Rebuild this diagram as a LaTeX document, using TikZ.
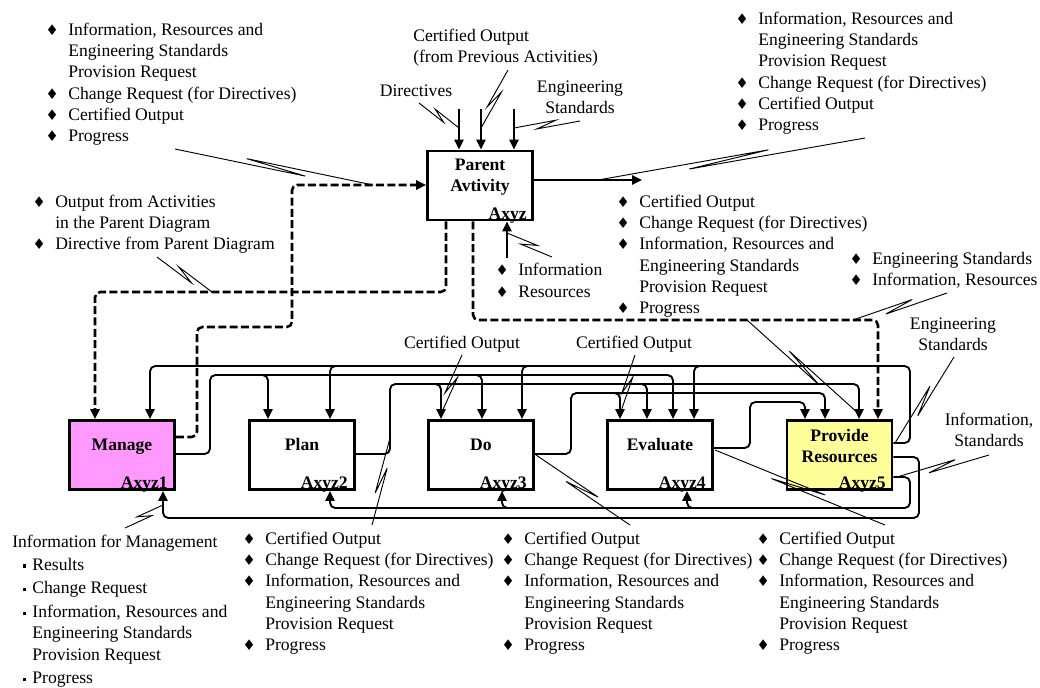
\documentclass[tikz,border=0pt]{standalone}
\usepackage{fontspec}
\setmainfont{Liberation Serif}
\newfontfamily\dejavu{DejaVu Sans}
\usetikzlibrary{arrows.meta,calc}
\definecolor{pinkfill}{RGB}{255,153,255}
\definecolor{yellowfill}{RGB}{255,255,153}
\newcommand\dia{\makebox[7pt][c]{\dejavu\fontsize{11}{11}\selectfont\char"2666}}
\newcommand\sqb{\rule[0.3ex]{2.4pt}{2.4pt}}
\newcommand\squig[3]{\draw[sq] (#1) -- ($(#1)!0.66!(#2)!2.5pt!#3:(#2)$) -- ($(#1)!0.36!(#2)!-2.5pt!#3:(#2)$) -- (#2);}
\newcommand\listA{\begin{tabular}[t]{@{}l@{\hspace{8.5pt}}l@{}}\dia & Information, Resources and\\ & Engineering Standards\\ & Provision Request\\ \dia & Change Request (for Directives)\\ \dia & Certified Output\\ \dia & Progress\end{tabular}}
\newcommand\listB{\begin{tabular}[t]{@{}l@{\hspace{8.5pt}}l@{}}\dia & Certified Output\\ \dia & Change Request (for Directives)\\ \dia & Information, Resources and\\ & Engineering Standards\\ & Provision Request\\ \dia & Progress\end{tabular}}
\begin{document}
\begin{tikzpicture}[x=0.75pt,y=-0.75pt, font=\fontsize{13.2}{16}\selectfont,
  box/.style={draw, line width=2.2pt, minimum width=78.75pt, minimum height=51.75pt, inner sep=0pt},
  ttl/.style={font=\fontsize{13.2}{16}\selectfont\bfseries, inner sep=0pt, anchor=base},
  bid/.style={font=\fontsize{13.2}{16}\selectfont\bfseries, inner sep=0pt, anchor=base east},
  flow/.style={line width=1.4pt, rounded corners=4pt, -{Triangle[length=7.5pt,width=7pt]}},
  dflow/.style={line width=1.9pt, rounded corners=4pt, dash pattern=on 6pt off 2.5pt, -{Triangle[length=7.5pt,width=7pt]}},
  sq/.style={line width=0.7pt},
  lbl/.style={inner sep=0pt, anchor=base},
  blist/.style={inner sep=0pt, anchor=base west, xshift=-15.5pt},
]
\useasboundingbox (0,0) rectangle (1040,687);

% ---------- boxes ----------
\node[box] (parent) at (480,185.5) {};
\node[box, fill=pinkfill] (manage) at (122,455) {};
\node[box] (plan) at (302,455) {};
\node[box] (do) at (481,455) {};
\node[box] (eval) at (660,455) {};
\node[box, fill=yellowfill] (prov) at (839.5,455) {};

\node[ttl] (parentT) at (480,170) {\begin{tabular}[t]{@{}c@{}}Parent\\Avtivity\end{tabular}};
\node[bid] (parentID) at (527,219) {Axyz};
\node[ttl] (manageT) at (122,450) {Manage};
\node[bid] (manageID) at (168,488) {Axyz1};
\node[ttl] (planT) at (302,450) {Plan};
\node[bid] (planID) at (348,488) {Axyz2};
\node[ttl] (doT) at (481,450) {Do};
\node[bid] (doID) at (527,488) {Axyz3};
\node[ttl] (evalT) at (660,450) {Evaluate};
\node[bid] (evalID) at (706,488) {Axyz4};
\node[ttl] (provT) at (839.5,441) {\begin{tabular}[t]{@{}c@{}}Provide\\Resources\end{tabular}};
\node[bid] (provID) at (886,488) {Axyz5};

% ---------- labels ----------
\node[lbl] (dirL) at (416,96) {Directives};
\node[inner sep=0pt, anchor=base west] (cpL) at (413,41) {\begin{tabular}[t]{@{}l@{}}Certified Output\\(from Previous Activities)\end{tabular}};
\node[lbl] (esL) at (580,92) {\begin{tabular}[t]{@{}c@{}}Engineering\\Standards\end{tabular}};
\node[lbl] (co1L) at (462,348) {Certified Output};
\node[lbl] (co2L) at (634,348) {Certified Output};
\node[lbl] (es2L) at (953,329) {\begin{tabular}[t]{@{}c@{}}Engineering\\Standards\end{tabular}};
\node[lbl] (isL) at (989,425) {\begin{tabular}[t]{@{}c@{}}Information,\\Standards\end{tabular}};

\node[blist] (tlL) at (68,35) {\listA};
\node[blist] (trL) at (758,24) {\listA};
\node[blist] (poL) at (639,207) {\listB};
\node[blist] (b7L) at (265,544) {\listB};
\node[blist] (b8L) at (524,544) {\listB};
\node[blist] (b9L) at (779,544) {\listB};
\node[blist] (paL) at (55,207) {\begin{tabular}[t]{@{}l@{\hspace{8.5pt}}l@{}}\dia & Output from Activities\\ & in the Parent Diagram\\ \dia & Directive from Parent Diagram\end{tabular}};
\node[blist] (irL) at (518,275) {\begin{tabular}[t]{@{}l@{\hspace{8.5pt}}l@{}}\dia & Information\\[0.5pt] \dia & Resources\end{tabular}};
\node[blist] (eiL) at (872,264) {\begin{tabular}[t]{@{}l@{\hspace{8.5pt}}l@{}}\dia & Engineering Standards\\ \dia & Information, Resources\end{tabular}};
\node[inner sep=0pt, anchor=base west] (imL) at (12,547) {\begin{tabular}[t]{@{\hspace{8.2pt}}c@{\hspace{4.5pt}}l@{}}
\multicolumn{2}{@{}l@{}}{Information for Management}\\[1.3pt]
\sqb & Results\\[1.8pt]
\sqb & Change Request\\[1.8pt]
\sqb & Information, Resources and\\
 & Engineering Standards\\
 & Provision Request\\[1.5pt]
\sqb & Progress\end{tabular}};

% ---------- parent connectors ----------
\coordinate (in1) at (459,109);
\coordinate (in2) at (481,109);
\coordinate (in3) at (514,109);
\coordinate (outP) at (642,180);
\coordinate (mechP) at (507,258);
\draw[flow] (in1) -- (parent.north -| in1);
\draw[flow] (in2) -- (parent.north -| in2);
\draw[flow] (in3) -- (parent.north -| in3);
\draw[flow] (parent.east |- outP) -- (outP);
\draw[flow] (mechP) -- (parent.south -| mechP);

% ---------- dashed ----------
\draw[dflow] (manage.east |- 0,437) -- (197,437) -- (197,327) -- (292,327) -- (292,185) -- (parent.west |- 0,185);
\draw[dflow] (parent.south -| 446,0) -- (446,292) -- (95,292) -- (manage.north -| 95,0);
\draw[dflow] (parent.south -| 473,0) -- (473,320) -- (878,320) -- (prov.north -| 878,0);

% ---------- provide controls (y=366) ----------
\draw[flow] (prov.east |- 0,443) -- (910,443) -- (910,366) -- (150,366) -- (manage.north -| 150,0);
\draw[flow] (340,366) -- (330,366) -- (plan.north -| 330,0);
\draw[flow] (532,366) -- (522,366) -- (do.north -| 522,0);
\draw[flow] (704,366) -- (694,366) -- (eval.north -| 694,0);
% manage output (y=375)
\draw[flow] (manage.east |- 0,454) -- (210,454) -- (210,375) -- (673,375) -- (eval.north -| 673,0);
\draw[flow] (258,375) -- (268,375) -- (plan.north -| 268,0);
\draw[flow] (472,375) -- (482,375) -- (do.north -| 482,0);
% plan output (y=384)
\draw[flow] (plan.east |- 0,454) -- (390,454) -- (390,384) -- (859,384) -- (prov.north -| 859,0);
\draw[flow] (431,384) -- (441,384) -- (do.north -| 441,0);
\draw[flow] (637,384) -- (647,384) -- (eval.north -| 647,0);
% do output (y=393)
\draw[flow] (do.east |- 0,454) -- (571,454) -- (571,393) -- (825,393) -- (prov.north -| 825,0);
\draw[flow] (610,393) -- (620,393) -- (eval.north -| 620,0);
% evaluate output (y=402)
\draw[flow] (eval.east |- 0,448) -- (750,448) -- (750,402) -- (805,402) -- (prov.north -| 805,0);
% provide mechanisms
\draw[flow] (prov.east |- 0,477) -- (910,477) -- (910,508) -- (330,508) -- (plan.south -| 330,0);
\draw[flow] (512,508) -- (502,508) -- (do.south -| 502,0);
\draw[flow] (697,508) -- (687,508) -- (eval.south -| 687,0);
\draw[flow] (prov.east |- 0,457) -- (919,457) -- (919,518) -- (163,518) -- (manage.south -| 163,0);

% ---------- squiggles ----------
\coordinate (s1a) at (175,149);  \coordinate (s1b) at (373,185);
\coordinate (s2a) at (419,103);  \coordinate (s2b) at (459,128);
\coordinate (s3a) at (508,70);   \coordinate (s3b) at (481,128);
\coordinate (s4a) at (580,121);  \coordinate (s4b) at (514,128);
\coordinate (s5a) at (865,138);  \coordinate (s5b) at (598,180);
\coordinate (s6a) at (552,257);  \coordinate (s6b) at (507,233);
\coordinate (s7a) at (157,257);  \coordinate (s7b) at (212,292);
\coordinate (s8a) at (947,293);  \coordinate (s8b) at (853,320);
\coordinate (s9a) at (954,357);  \coordinate (s9b) at (895,443);
\coordinate (s10a) at (989,455); \coordinate (s10b) at (897,477);
\coordinate (s11a) at (125,528); \coordinate (s11b) at (163,505);
\coordinate (s12a) at (372,525); \coordinate (s12b) at (390,438);
\coordinate (s13a) at (630,525); \coordinate (s13b) at (536,455);
\coordinate (s14a) at (885,525); \coordinate (s14b) at (715,450);
\coordinate (s15a) at (462,355); \coordinate (s15b) at (441,414);
\coordinate (s16a) at (635,355); \coordinate (s16b) at (620,414);
\coordinate (s17a) at (747,320); \coordinate (s17b) at (859,414);
\squig{s1a}{s1b}{-90}
\squig{s2a}{s2b}{-90}
\squig{s3a}{s3b}{-90}
\squig{s4a}{s4b}{90}
\squig{s5a}{s5b}{90}
\squig{s6a}{s6b}{90}
\squig{s7a}{s7b}{-90}
\squig{s8a}{s8b}{90}
\squig{s9a}{s9b}{90}
\squig{s10a}{s10b}{90}
\squig{s11a}{s11b}{-90}
\squig{s12a}{s12b}{-90}
\squig{s13a}{s13b}{90}
\squig{s14a}{s14b}{90}
\squig{s15a}{s15b}{-90}
\squig{s16a}{s16b}{-90}
\squig{s17a}{s17b}{-90}
\end{tikzpicture}
\end{document}
